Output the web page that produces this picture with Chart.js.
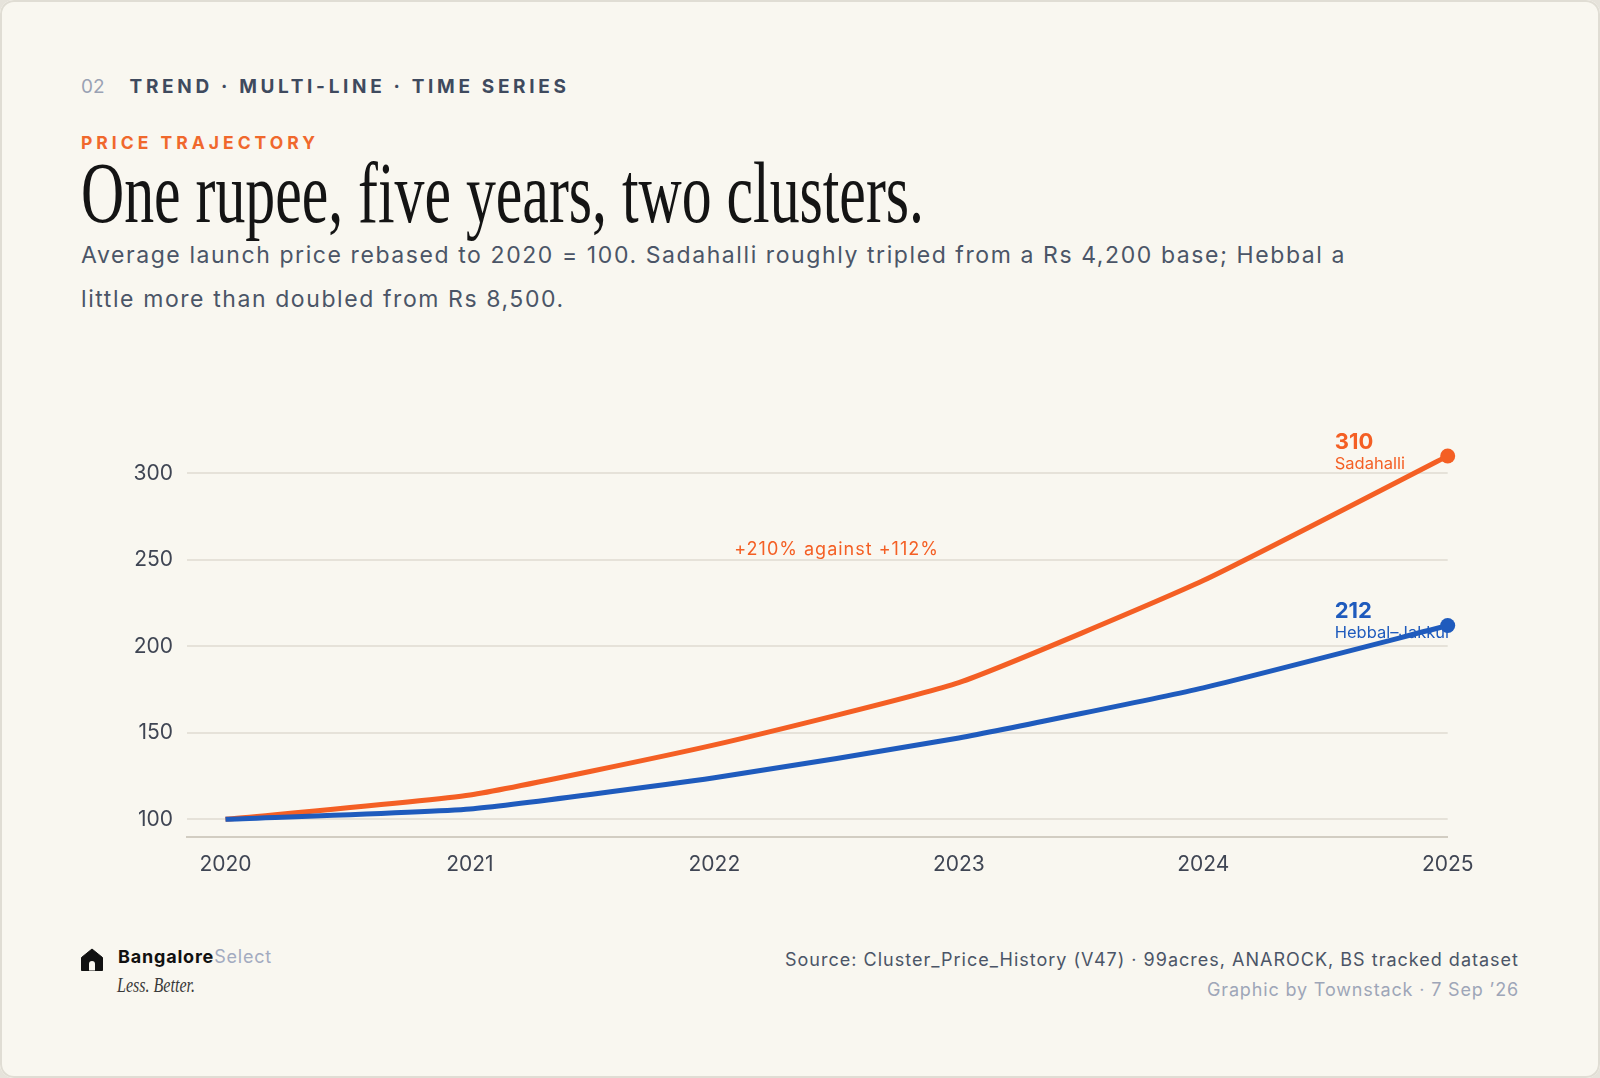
<!DOCTYPE html>
<html lang="en">
<head>
    <meta charset="UTF-8">
    <meta name="viewport" content="width=device-width, initial-scale=1.0">
    <title>Price Trajectory</title>
    <script src="https://cdn.jsdelivr.net/npm/chart.js"></script>
</head>
<style>
    html, body { margin: 0; padding: 0; background: #e6e3db; }
    #card {
        position: relative;
        width: 1600px;
        height: 1078px;
        background: #f9f7f0;
        border-radius: 14px;
        overflow: hidden;
        font-family: Inter, "Noto Sans", sans-serif;
    }
    #card::after {
        content: "";
        position: absolute;
        inset: 0;
        border: 2px solid #e0ddd4;
        border-radius: 14px;
        pointer-events: none;
    }
    .abs { position: absolute; white-space: nowrap; line-height: 1; }
    #chartWrap { position: absolute; left: 0; top: 380px; width: 1600px; height: 520px; }
</style>
<body>
<div id="card">
    <div class="abs" style="left:81px; top:77px; font-size:19px;">
        <span style="color:#9aa2b4;">02</span><span id="kicker" style="margin-left:25px; font-weight:700; color:#3f4a5e;">TREND · MULTI-LINE · TIME SERIES</span>
    </div>
    <div class="abs" id="eyebrow" style="left:81px; top:134px; font-size:17.5px; font-weight:700; color:#f0682c;">PRICE TRAJECTORY</div>
    <div class="abs" id="title" style="left:81px; top:150px; font-family:'Liberation Serif', serif; font-size:86px; color:#141414; transform-origin:0 0;">One rupee, five years, two clusters.</div>
    <div class="abs" id="dek" style="left:81px; top:233px; font-size:23px; line-height:44px; color:#4b5567;">
        <span id="dekLine">Average launch price rebased to 2020 = 100. Sadahalli roughly tripled from a Rs 4,200 base; Hebbal a</span><br>little more than doubled from Rs 8,500.
    </div>

    <div id="chartWrap"><canvas id="priceChart"></canvas></div>

    <svg class="abs" style="left:81px; top:948px;" width="22" height="23" viewBox="0 0 22 23">
        <path d="M11 1 L21.5 9.5 V22.5 H0.5 V9.5 Z" fill="#111" stroke="#111" stroke-linejoin="round"/>
        <path d="M8 22.5 V16 a3 3 0 0 1 6 0 V22.5 Z" fill="#f9f7f0"/>
    </svg>
    <div class="abs" id="brand" style="left:118px; top:948px; font-size:18px;">
        <span style="font-weight:700; color:#111;">Bangalore</span><span style="color:#a3abc0;">Select</span>
    </div>
    <div class="abs" id="tagline" style="left:117px; top:974px; font-family:'Liberation Serif', serif; font-style:italic; font-size:22px; color:#3a3a3a; transform-origin:0 0;">Less. Better.</div>

    <div class="abs" id="source" style="right:81px; top:951px; font-size:18px; color:#4b5567;">Source: Cluster_Price_History (V47) · 99acres, ANAROCK, BS tracked dataset</div>
    <div class="abs" id="credit" style="right:81px; top:981px; font-size:18px; color:#9ea6b8;">Graphic by Townstack · 7 Sep ’26</div>
</div>

<script>
    // rebased index, 2020 = 100
    const years = [2020, 2021, 2022, 2023, 2024, 2025];
    const sadahalli = [100, 114, 143, 179, 238, 310];
    const hebbal = [100, 106, 124, 147, 176, 212];
    const yTicks = [100, 150, 200, 250, 300];
    const seriesNames = ['Sadahalli', 'Hebbal–Jakkur'];

    const ORANGE = '#f45f24';
    const BLUE = '#1f5bbd';

    // squeeze serif lines to the condensed look, and spread the wider sans lines
    function fitWidth(el, w) {
        const s = w / el.getBoundingClientRect().width;
        el.style.transform = 'scaleX(' + s + ')';
    }
    function spacingFor(el, w) {
        const n = el.textContent.trim().length;
        return (w - el.getBoundingClientRect().width) / n;
    }
    function fitSpacing(el, w) {
        el.style.letterSpacing = spacingFor(el, w) + 'px';
    }
    fitWidth(document.getElementById('title'), 843);
    fitWidth(document.getElementById('tagline'), 78);
    fitSpacing(document.getElementById('kicker'), 440);
    fitSpacing(document.getElementById('eyebrow'), 238);
    document.getElementById('dek').style.letterSpacing =
        spacingFor(document.getElementById('dekLine'), 1265) + 'px';
    fitSpacing(document.getElementById('brand'), 154);
    fitSpacing(document.getElementById('source'), 734);
    fitSpacing(document.getElementById('credit'), 312);

    const toPoints = arr => arr.map((v, i) => ({ x: years[i], y: v }));
    const pct = arr => '+' + Math.round((arr[arr.length - 1] / arr[0] - 1) * 100) + '%';

    const labelPlugin = {
        id: 'labelPlugin',
        beforeDatasetsDraw(chart) {
            const ctx = chart.ctx;
            ctx.save();
            ctx.textAlign = 'left';
            ctx.textBaseline = 'alphabetic';
            chart.data.datasets.forEach((ds, i) => {
                const meta = chart.getDatasetMeta(i);
                const pt = meta.data[meta.data.length - 1];
                const last = ds.data[ds.data.length - 1].y;
                ctx.fillStyle = ds.borderColor;
                ctx.font = '700 22px Inter';
                ctx.fillText(String(last), pt.x - 113, pt.y - 7.5);
                ctx.font = '400 16.5px Inter';
                ctx.fillText(ds.label, pt.x - 113, pt.y + 12.5);
            });
            // comparison note between the two lines
            const xs = chart.scales.x, ys = chart.scales.y;
            ctx.fillStyle = ORANGE;
            ctx.font = '400 18px Inter';
            ctx.letterSpacing = '1px';
            ctx.textAlign = 'center';
            ctx.fillText(pct(sadahalli) + ' against ' + pct(hebbal), xs.getPixelForValue(2022.5), ys.getPixelForValue(253));
            ctx.restore();
        }
    };

    const lastOnly = c => c.dataIndex === years.length - 1 ? 7.5 : 0;

    const ctx = document.getElementById('priceChart').getContext('2d');
    const chart = new Chart(ctx, {
        type: 'line',
        data: {
            datasets: [
                {
                    label: seriesNames[0],
                    data: toPoints(sadahalli),
                    borderColor: ORANGE,
                    backgroundColor: ORANGE,
                    borderWidth: 5,
                    tension: 0.15,
                    pointRadius: lastOnly,
                    pointBorderWidth: 0,
                    clip: false,
                    order: 1
                },
                {
                    label: seriesNames[1],
                    data: toPoints(hebbal),
                    borderColor: BLUE,
                    backgroundColor: BLUE,
                    borderWidth: 5,
                    tension: 0.15,
                    pointRadius: lastOnly,
                    pointBorderWidth: 0,
                    clip: false,
                    order: 0
                }
            ]
        },
        options: {
            responsive: true,
            maintainAspectRatio: false,
            animation: false,
            events: [],
            layout: { padding: { top: 58.7, right: 152.3, left: 0, bottom: 0 } },
            plugins: {
                legend: { display: false },
                tooltip: { enabled: false }
            },
            scales: {
                x: {
                    type: 'linear',
                    min: 2019.8425,
                    max: 2025,
                    afterBuildTicks: s => { s.ticks = years.map(v => ({ value: v })); },
                    afterFit: s => { s.height = 63.4; },
                    grid: { display: false, drawTicks: false },
                    border: { display: true, color: '#d2cdc2', width: 2 },
                    ticks: {
                        padding: 15,
                        color: '#3f4553',
                        font: { family: 'Inter', size: 21 },
                        maxRotation: 0,
                        callback: v => String(v)
                    }
                },
                y: {
                    min: 90,
                    max: 320,
                    afterBuildTicks: s => { s.ticks = yTicks.map(v => ({ value: v })); },
                    afterFit: s => { s.width = 187; },
                    grid: { color: '#e6e2d9', lineWidth: 2, drawTicks: false },
                    border: { display: false },
                    ticks: {
                        padding: 14,
                        color: '#3f4553',
                        font: { family: 'Inter', size: 21 }
                    }
                }
            }
        },
        plugins: [labelPlugin]
    });
</script>
</body>
</html>
